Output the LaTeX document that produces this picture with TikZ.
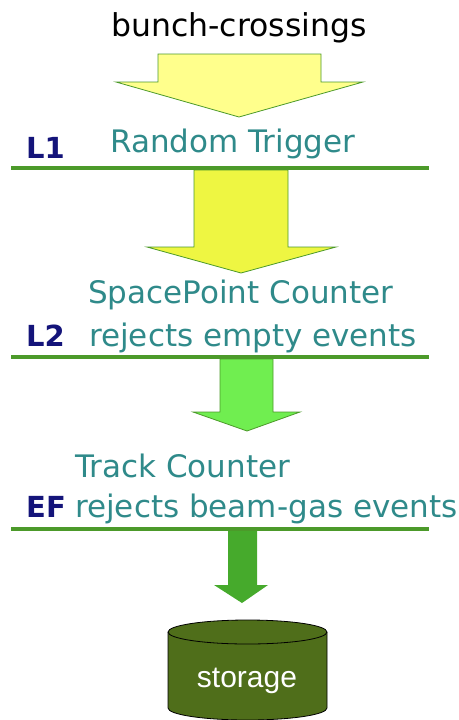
\documentclass[tikz,border=0pt]{standalone}
\usepackage{fontspec}
\setmainfont{DejaVu Sans}
\newfontfamily\arialfont{Liberation Sans}
\definecolor{teal2}{HTML}{2F8A8A}
\definecolor{navy2}{HTML}{14147A}
\definecolor{linegreen}{HTML}{4C9A2A}
\definecolor{arrowA}{HTML}{FFFF8C}
\definecolor{arrowB}{HTML}{EEF642}
\definecolor{arrowC}{HTML}{70EE50}
\definecolor{arrowD}{HTML}{46AA2C}
\definecolor{olive2}{HTML}{4F6E1A}
\begin{document}
\begin{tikzpicture}[x=1pt,y=-1pt,
  lbl/.style={font=\fontsize{31}{34}\selectfont, text=teal2, inner sep=0pt, anchor=base west},
  lvl/.style={font=\fontsize{29}{32}\selectfont\bfseries, text=navy2, inner sep=0pt, anchor=base west},
  stage/.style={draw=linegreen, line width=3.5pt},
  blockarrow/.style={draw=linegreen, line width=0.8pt, line join=miter}]
\useasboundingbox (0,0) rectangle (458,720);
% top label
\node[font=\fontsize{31.5}{34}\selectfont, text=black, inner sep=0pt, anchor=base] (bc) at (239,36) {bunch-crossings};
% arrow 1
\draw[blockarrow, fill=arrowA] (158,54) -- (321,54) -- (321,82) -- (363,82) -- (239,117) -- (116,82) -- (158,82) -- cycle;
% L1
\node[lvl] (l1) at (26,158) {L1};
\node[lbl] (rt) at (110,152) {Random Trigger};
\coordinate (l1a) at (11,168); \coordinate (l1b) at (429,168);
\draw[stage] (l1a) -- (l1b);
% arrow 2
\draw[blockarrow, fill=arrowB] (194,170) -- (288,170) -- (288,247) -- (336,247) -- (241,273) -- (147,247) -- (194,247) -- cycle;
% L2
\node[lbl] (sp) at (88,303) {SpacePoint Counter};
\node[lbl] (re) at (89,346) {rejects empty events};
\node[lvl] (l2) at (26,346) {L2};
\coordinate (l2a) at (11,357); \coordinate (l2b) at (429,357);
\draw[stage] (l2a) -- (l2b);
% arrow 3
\draw[blockarrow, fill=arrowC] (220,359) -- (273,359) -- (273,412) -- (300,412) -- (247,431) -- (193,412) -- (220,412) -- cycle;
% EF
\node[lbl] (tc) at (75,477) {Track Counter};
\node[lbl] (rb) at (75,517) {rejects beam-gas events};
\node[lvl] (ef) at (26,517) {EF};
\coordinate (efa) at (11,529); \coordinate (efb) at (429,529);
\draw[stage] (efa) -- (efb);
% arrow 4
\fill[arrowD] (228,531) -- (257,531) -- (257,585) -- (268,585) -- (242,603) -- (214,585) -- (228,585) -- cycle;
% storage cylinder (y axis points down: angles 0..180 pass through the visual bottom)
\draw[fill=olive2, line width=0.8pt] (168,632) -- (168,708) arc[start angle=180, end angle=0, x radius=79.5, y radius=12] -- (327,632) arc[start angle=0, end angle=-180, x radius=79.5, y radius=12] -- cycle;
\draw[line width=0.8pt] (168,632) arc[start angle=180, end angle=0, x radius=79.5, y radius=12];
\node[font=\arialfont\fontsize{30}{33}\selectfont, text=white, inner sep=0pt, anchor=base] (st) at (247,687) {storage};
\end{tikzpicture}
\end{document}
